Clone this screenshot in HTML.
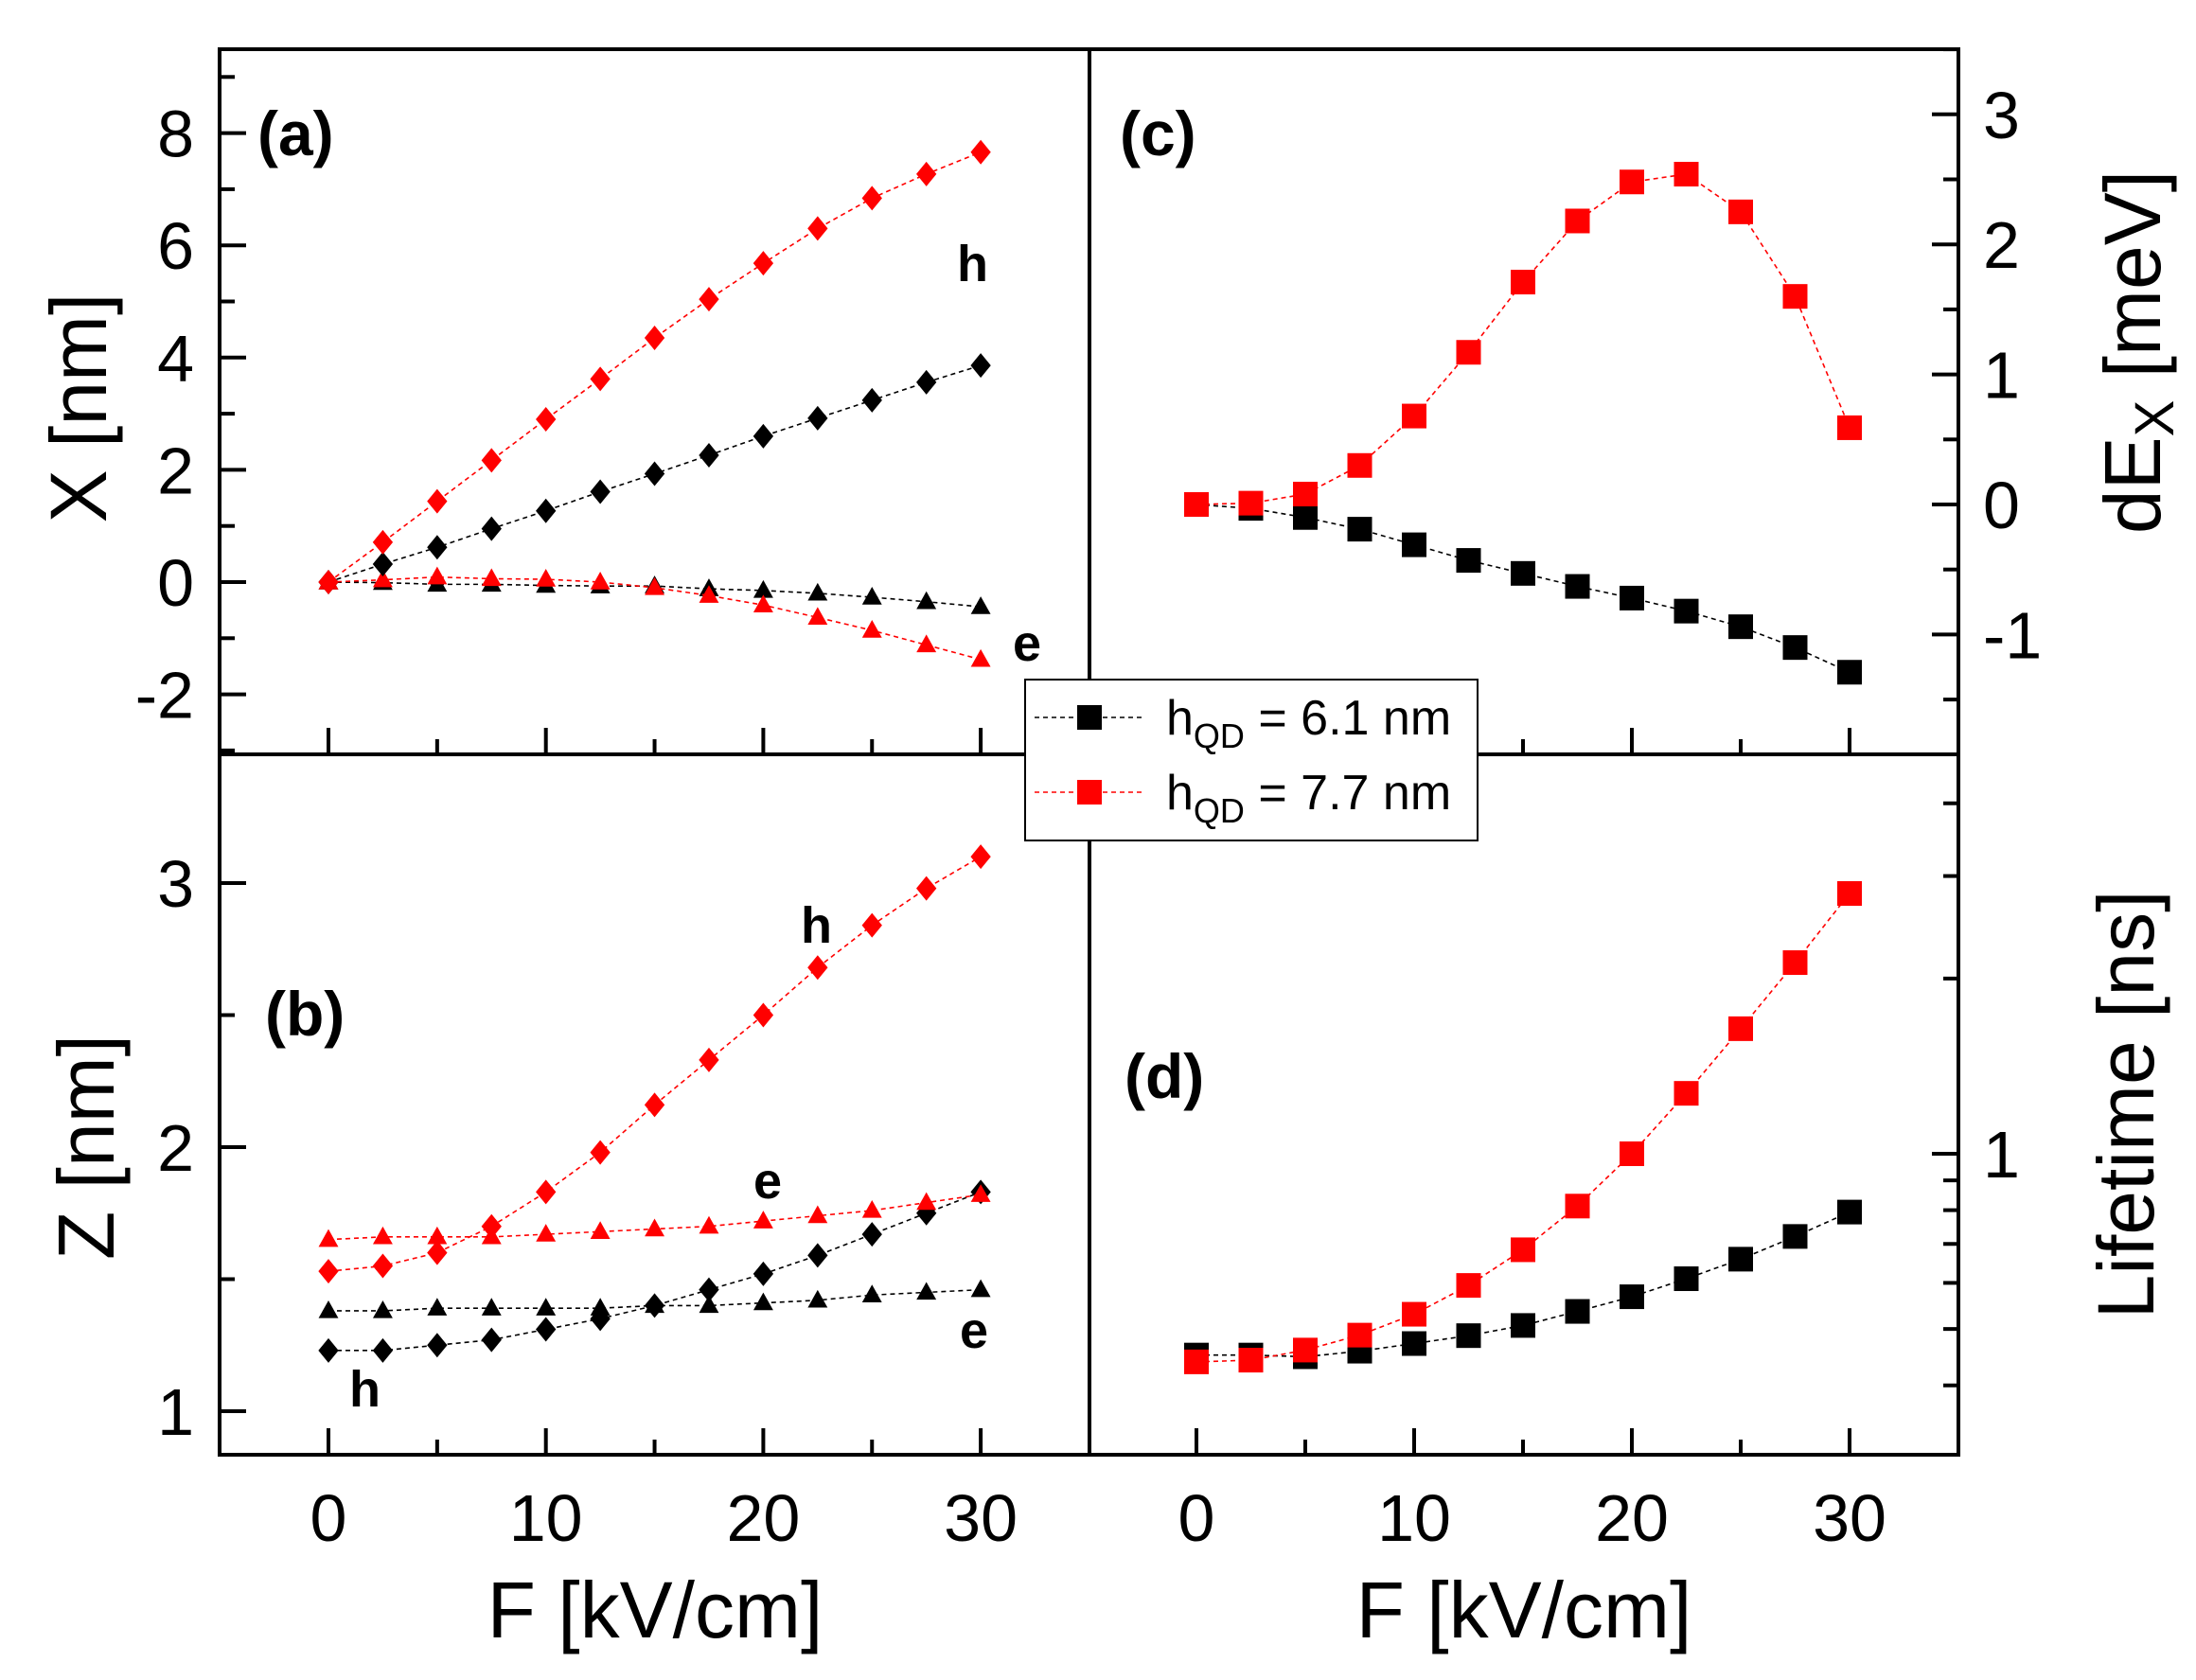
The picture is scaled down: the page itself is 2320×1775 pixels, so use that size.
<!DOCTYPE html>
<html><head><meta charset="utf-8"><style>
html,body{margin:0;padding:0;background:#fff}
svg{display:block}
text{font-family:"Liberation Sans",Arial,sans-serif}
</style></head><body>
<svg id="fig" width="2320" height="1775" viewBox="0 0 2320 1775" xmlns="http://www.w3.org/2000/svg">
<g id="marks"></g>
<g id="frame"></g>
<g id="legend">
  <rect x="1083" y="718" width="478" height="170" fill="#fff" stroke="#000" stroke-width="2"/>
  <g>
    <line x1="1093" y1="758" x2="1210" y2="758" stroke="#000" stroke-width="1.5" stroke-dasharray="5,4"/>
    <rect x="1138" y="745" width="26" height="26" fill="#000"/>
    <text x="1232" y="776" font-size="52">h<tspan font-size="36" dy="14">QD</tspan><tspan dy="-14"> = 6.1 nm</tspan></text>
  </g>
  <g>
    <line x1="1093" y1="837" x2="1210" y2="837" stroke="#f00" stroke-width="1.5" stroke-dasharray="5,4"/>
    <rect x="1138" y="824" width="26" height="26" fill="#f00"/>
    <text x="1232" y="855" font-size="52">h<tspan font-size="36" dy="14">QD</tspan><tspan dy="-14"> = 7.7 nm</tspan></text>
  </g>
</g>
<g id="labels" font-weight="bold" font-size="66">
  <text x="272" y="164">(a)</text>
  <text x="1183" y="164">(c)</text>
  <text x="280" y="1094">(b)</text>
  <text x="1188" y="1160">(d)</text>
  <text x="1011" y="297" font-size="54">h</text>
  <text x="1070" y="698" font-size="54">e</text>
  <text x="846" y="996" font-size="54">h</text>
  <text x="796" y="1266" font-size="54">e</text>
  <text x="1014" y="1424" font-size="54">e</text>
  <text x="369" y="1486" font-size="54">h</text>
</g>
<g font-size="84">
  <text x="692" y="1730" text-anchor="middle">F [kV/cm]</text>
  <text x="1610" y="1730" text-anchor="middle">F [kV/cm]</text>
  <text transform="translate(112,431) rotate(-90)" text-anchor="middle">X [nm]</text>
  <text transform="translate(120,1212) rotate(-90)" text-anchor="middle">Z [nm]</text>
  <text transform="translate(2282,372) rotate(-90)" text-anchor="middle">dE<tspan font-size="58" dy="14">X</tspan><tspan dy="-14"> [meV]</tspan></text>
  <text transform="translate(2275,1167) rotate(-90)" text-anchor="middle">Lifetime [ns]</text>
</g>
</svg>
<script>
const fields = [0,2.5,5,7.5,10,12.5,15,17.5,20,22.5,25,27.5,30];
const xTicks = [0,10,20,30];
// panel (a) X [nm]
const aHoleRed = [0,0.71,1.44,2.17,2.90,3.62,4.35,5.04,5.68,6.30,6.84,7.27,7.66];
const aHoleBlack = [0,0.32,0.62,0.95,1.27,1.61,1.93,2.26,2.60,2.92,3.24,3.56,3.86];
const aElecBlack = [0,-0.01,-0.04,-0.04,-0.06,-0.07,-0.07,-0.12,-0.15,-0.20,-0.27,-0.35,-0.44];
const aElecRed = [0,0.04,0.09,0.06,0.05,0,-0.10,-0.24,-0.41,-0.63,-0.86,-1.12,-1.38];
const aTicks = [-2,0,2,4,6,8];
// panel (b) Z [nm]
const bHoleRed = [1.53,1.55,1.60,1.70,1.83,1.98,2.16,2.33,2.50,2.68,2.84,2.98,3.10];
const bElecRed = [1.65,1.66,1.66,1.66,1.67,1.68,1.69,1.70,1.72,1.74,1.76,1.79,1.82];
const bHoleBlack = [1.23,1.23,1.25,1.27,1.31,1.35,1.40,1.46,1.52,1.59,1.67,1.75,1.83];
const bElecBlack = [1.38,1.38,1.39,1.39,1.39,1.39,1.40,1.40,1.41,1.42,1.44,1.45,1.46];
const bTicks = [1,2,3];
// panel (c) dE_X [meV]
const cRed = [0,0.01,0.08,0.30,0.68,1.17,1.71,2.18,2.48,2.54,2.25,1.60,0.59];
const cBlack = [0,-0.03,-0.10,-0.19,-0.31,-0.43,-0.53,-0.63,-0.72,-0.82,-0.94,-1.10,-1.29];
const cTicks = [-1,0,1,2,3];
// panel (d) Lifetime [ns], log scale
const dRed = [0.439,0.442,0.460,0.488,0.530,0.594,0.684,0.813,1.00,1.27,1.64,2.13,2.80];
const dBlack = [0.451,0.451,0.448,0.458,0.472,0.487,0.507,0.536,0.568,0.610,0.659,0.721,0.794];
const dTicks = [1];
const dMinor = [0.3,0.4,0.5,0.6,0.7,0.8,0.9,2,3,4];

const NS="http://www.w3.org/2000/svg";
const marks=document.getElementById('marks'), frame=document.getElementById('frame');
function mk(tag,attrs,parent){const e=document.createElementNS(NS,tag);for(const k in attrs)e.setAttribute(k,attrs[k]);parent.appendChild(e);return e;}
const xL = v => 347 + v*22.97;
const xR = v => 1264 + v*23.0;
const yA = v => 615 - v*59.3;
const yB = v => 1491 - (v-1)*279;
const yC = v => 533 - v*137.4;
const yD = v => 1219 - Math.log10(v)*615;

function series(name,xs,ys,xf,yf,color,shape,size){
  const g=mk('g',{},marks);
  
  
  const pts=xs.map((x,i)=>[xf(x),yf(ys[i])]);
  const pl=mk('polyline',{points:pts.map(p=>p.join(',')).join(' '),fill:'none',stroke:color,'stroke-width':1.6,'stroke-dasharray':'5,4'},g);
  
  
  pts.forEach(([x,y])=>{
    let m; const s=size/2;
    if(shape==='sq') m=mk('rect',{x:x-s,y:y-s,width:size,height:size,fill:color},g);
    else if(shape==='dia') m=mk('polygon',{points:`${x},${y-s} ${x+s*0.82},${y} ${x},${y+s} ${x-s*0.82},${y}`,fill:color},g);
    else m=mk('polygon',{points:`${x},${y-s} ${x+s*0.95},${y+s*0.7} ${x-s*0.95},${y+s*0.7}`,fill:color},g);
    
    
  });
}
series('a-elec-black',fields,aElecBlack,xL,yA,'#000','tri',22);
series('a-elec-red',fields,aElecRed,xL,yA,'#f00','tri',22);
series('a-hole-black',fields,aHoleBlack,xL,yA,'#000','dia',26);
series('a-hole-red',fields,aHoleRed,xL,yA,'#f00','dia',26);
series('b-elec-black',fields,bElecBlack,xL,yB,'#000','tri',22);
series('b-hole-black',fields,bHoleBlack,xL,yB,'#000','dia',26);
series('b-elec-red',fields,bElecRed,xL,yB,'#f00','tri',22);
series('b-hole-red',fields,bHoleRed,xL,yB,'#f00','dia',26);
series('c-black',fields,cBlack,xR,yC,'#000','sq',26);
series('c-red',fields,cRed,xR,yC,'#f00','sq',26);
series('d-black',fields,dBlack,xR,yD,'#000','sq',26);
series('d-red',fields,dRed,xR,yD,'#f00','sq',26);

// frame
const T=52,M=797,B=1537,LL=232,MID=1151,RR=2069;
const fr=mk('path',{d:`M${LL},${T}H${RR}V${B}H${LL}Z M${MID},${T}V${B} M${LL},${M}H${RR}`,fill:'none',stroke:'#000','stroke-width':4},frame);


function tick(x1,y1,x2,y2){const t=mk('line',{x1,y1,x2,y2,stroke:'#000','stroke-width':4},frame);}
function label(txt,x,y,anchor,name){const t=mk('text',{x,y,'font-size':70,'text-anchor':anchor},frame);t.textContent=txt;}
// x ticks
[[xL,M],[xL,B],[xR,M],[xR,B]].forEach(([f,yb])=>{
  xTicks.forEach(v=>tick(f(v),yb,f(v),yb-28));
  xTicks.slice(0,-1).forEach(v=>tick(f(v+5),yb,f(v+5),yb-16));
});
xTicks.forEach(v=>{label(String(v),xL(v),1628,'middle','x-tick-label');label(String(v),xR(v),1628,'middle','x-tick-label');});
// y ticks a
for(let v=-3;v<=9;v++){const y=yA(v);if(y<T||y>M)continue;tick(LL,y,LL+(v%2===0?28:16),y);}
aTicks.forEach(v=>label(String(v),205,yA(v)+25,'end','y-tick-label-a'));
// b
for(let v=1;v<=3.5;v+=0.5){const y=yB(v);tick(LL,y,LL+(Number.isInteger(v)?28:16),y);}
bTicks.forEach(v=>label(String(v),205,yB(v)+25,'end','y-tick-label-b'));
// c
for(let v=-1.5;v<=3.5;v+=0.5){const y=yC(v);if(y<T||y>M)continue;tick(RR,y,RR-(Number.isInteger(v)?28:16),y);}
cTicks.forEach(v=>label(String(v),2095,yC(v)+25,'start','y-tick-label-c'));
// d
dTicks.forEach(v=>{tick(RR,yD(v),RR-28,yD(v));label(String(v),2095,yD(v)+25,'start','y-tick-label-d');});
dMinor.forEach(v=>{const y=yD(v);if(y>M&&y<B)tick(RR,y,RR-16,y);});
</script>
</body></html>
